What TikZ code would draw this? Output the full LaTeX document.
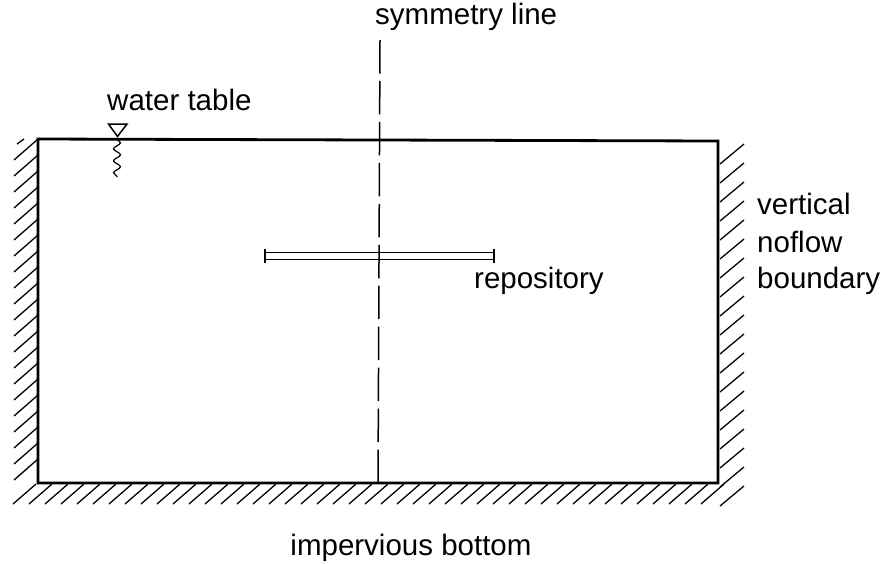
\documentclass[tikz,border=0pt]{standalone}
\usepackage{fontspec}
\setmainfont{Liberation Sans}
\usetikzlibrary{decorations.pathmorphing}
\begin{document}
\begin{tikzpicture}[x=1pt,y=-1pt,
  lbl/.style={inner sep=0pt,font=\fontsize{29.5}{34}\selectfont},
  hatch/.style={line width=1.3pt},
  border/.style={line width=2.8pt,line join=miter},
  symline/.style={line width=1.5pt,dash pattern=on 33.5pt off 7.45pt}]
\useasboundingbox (0,0) rectangle (885,563);
% hatching
\foreach \y in {160,176,...,480} \draw[hatch] (14,\y) -- (38,\y-21);
\draw[hatch] (17,144) -- (24,139);
\foreach \x in {13,29,...,709} \draw[hatch] (\x,504) -- (\x+23,484);
\foreach \y in {164,183,...,510} \draw[hatch] (720,\y) -- (744,\y-20);
% domain
\coordinate (tl) at (38,139);
\coordinate (tr) at (718,141);
\coordinate (br) at (718,483);
\coordinate (bl) at (38,483);
\draw[border] (tl) -- (tr) -- (br) -- (bl) -- cycle;
% symmetry line
\coordinate (st) at (380,40);
\coordinate (sb) at (378,483);
\draw[symline] (sb) -- (st);
% repository
\draw[line width=1.3pt] (265,252.5) rectangle (494,259.5);
\draw[line width=2pt] (265,249) -- (265,263) (494,249) -- (494,263);
% water table symbol
\draw[line width=1.5pt,line join=miter] (108.5,124) -- (127,124) -- (117.5,136.5) -- cycle;
\draw[line width=1.2pt,decorate,decoration={snake,segment length=12pt,amplitude=3.5pt}] (117,139) -- (117,177);
% labels
\node[lbl,anchor=base west] (sym) at (375,24) {symmetry line};
\node[lbl,anchor=base west] (wt) at (107,110) {water table};
\node[lbl,anchor=base west] (rep) at (474,288) {repository};
\node[lbl,anchor=base west] (v1) at (757,214) {vertical};
\node[lbl,anchor=base west] (v2) at (757,252) {noflow};
\node[lbl,anchor=base west] (v3) at (757,288) {boundary};
\node[lbl,anchor=base] (imp) at (411,555) {impervious bottom};
\end{tikzpicture}
\end{document}
